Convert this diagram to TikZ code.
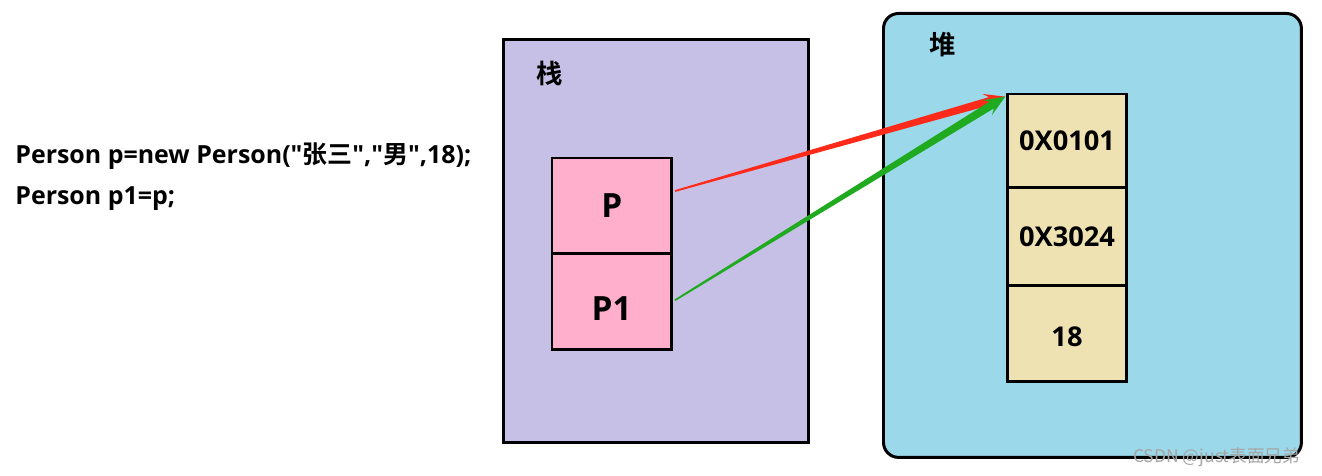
\documentclass[tikz,border=0pt]{standalone}
\usepackage{fontspec}
\setmainfont{Open Sans}[Ligatures=TeXOff]
\newfontfamily\cjk{Noto Sans CJK SC}[BoldFont={Noto Sans CJK SC Bold}]
\usepackage{tikz}
\usetikzlibrary{positioning, calc, arrows.meta}
\definecolor{stackfill}{HTML}{C7C0E6}
\definecolor{heapfill}{HTML}{9AD8EA}
\definecolor{refcell}{HTML}{FFAFCC}
\definecolor{objcell}{HTML}{EEE2B3}
\definecolor{refred}{HTML}{FF2A1A}
\definecolor{refgreen}{HTML}{1FAA1F}
% tapered arrow: #1 from, #2 to, #3 colour
\newcommand{\taperarrow}[3]{%
  \coordinate (join) at ($(#2)!9pt!(#1)$);
  \coordinate (wing) at ($(#2)!12pt!(#1)$);
  \fill[#3] ($(#1)!0.5pt!90:(#2)$) -- ($(join)!2.3pt!-90:(#1)$)
    -- ($(wing)!5pt!-90:(#1)$) -- (#2) -- ($(wing)!5pt!90:(#1)$)
    -- ($(join)!2.3pt!90:(#1)$) -- ($(#1)!0.5pt!-90:(#2)$) -- cycle;
}

\begin{document}
\begin{tikzpicture}[
    x=0.02cm, y=-0.02cm,
    font=\bfseries,
    region/.style={draw, line width=1.7pt, anchor=north west, inner sep=0pt},
    cell/.style={draw, line width=1.7pt, outer sep=0pt, inner sep=0pt, minimum width=2.39cm, minimum height=1.92cm},
    title/.style={font=\cjk\bfseries\fontsize{15}{17}\selectfont},
    codeline/.style={anchor=base west, inner sep=0pt, font=\bfseries\fontsize{14.2}{17}\selectfont},
]
    \useasboundingbox (0,0) rectangle (1322,476);

    % code
    \node[codeline] (line1) at (15,164) {Person p=new Person("{\cjk 张三}","{\cjk 男}",18);};
    \node[codeline] (line2) at (15,205) {Person p1=p;};

    % stack
    \node[region, fill=stackfill, minimum width=6.1cm, minimum height=8.06cm] (stack) at (502,38) {};
    \node[title] (stacklabel) at (550,73) {栈};
    \node[cell, fill=refcell, anchor=north west, font=\bfseries\fontsize{19}{21}\selectfont] (p) at (552,158) {P};
    \node[cell, fill=refcell, below=0pt of p, font=\bfseries\fontsize{19}{21}\selectfont, text height=21pt] (p1) {P1};

    % heap
    \node[region, fill=heapfill, rounded corners=0.3cm, minimum width=8.36cm, minimum height=8.88cm] (heap) at (882,12) {};
    \node[title] (heaplabel) at (943,45) {堆};
    \node[cell, fill=objcell, anchor=north west, minimum width=2.4cm, minimum height=1.88cm, font=\bfseries\fontsize{15.5}{17}\selectfont] (c1) at (1007,94) {0X0101};
    \node[cell, fill=objcell, below=0pt of c1, minimum width=2.4cm, minimum height=1.96cm, font=\bfseries\fontsize{15.5}{17}\selectfont] (c2) {0X3024};
    \node[cell, fill=objcell, below=0pt of c2, minimum width=2.4cm, minimum height=1.92cm, font=\bfseries\fontsize{15.5}{17}\selectfont, text height=15pt] (c3) {18};

    % references
    \coordinate (pstart) at ([yshift=8.5pt, xshift=2pt]p.east);
    \coordinate (p1start) at ([yshift=1pt, xshift=2pt]p1.east);
    \coordinate (target) at ([xshift=-1pt, yshift=-1.5pt]c1.north west);
    \taperarrow{pstart}{target}{refred}
    \taperarrow{p1start}{target}{refgreen}

    \node[anchor=east, font=\cjk\fontsize{10}{12}\selectfont, text=black!35] (mark) at (1306,457) {CSDN @just表面兄弟};
\end{tikzpicture}
\end{document}
